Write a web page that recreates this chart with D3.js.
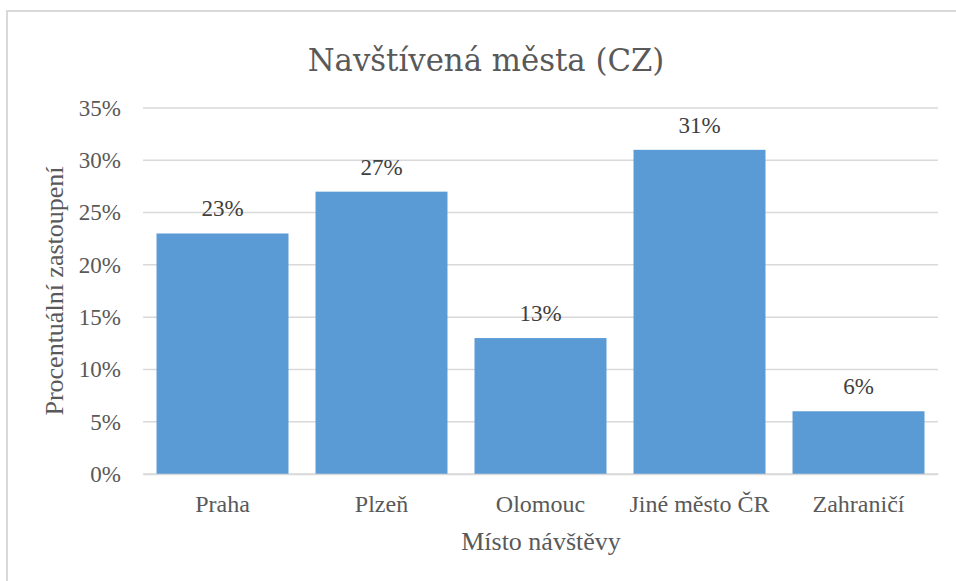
<!DOCTYPE html>
<html><head><meta charset="utf-8">
<script src="https://cdn.jsdelivr.net/npm/d3@7"></script>
<style>body{margin:0;background:#fff}svg{display:block}</style>
</head><body><svg id="c" width="956" height="581"></svg>
<script>
const categories = ["Praha","Plzeň","Olomouc","Jiné město ČR","Zahraničí"];
const values = [0.23,0.27,0.13,0.31,0.06];
const yTicks = [0,0.05,0.10,0.15,0.20,0.25,0.30,0.35];
const title = "Navštívená města (CZ)";
const xTitle = "Místo návštěvy";
const yTitle = "Procentuální zastoupení";

const svg = d3.select("#c");
svg.append("rect").attr("x",7).attr("y",11).attr("width",960).attr("height",590)
  .attr("fill","#fff").attr("stroke","#D9D9D9").attr("stroke-width",2);

const L=143,R=938,T=108,B=474;
const x = d3.scaleBand().domain(categories).range([L,R]).paddingInner(0.17).paddingOuter(0.085);
const y = d3.scaleLinear().domain([0,0.35]).range([B,T]);
const serif = "Liberation Serif";
const pct = d3.format(".0%");

// grid
svg.append("g").selectAll("line").data(yTicks).join("line")
  .attr("x1",L).attr("x2",R).attr("y1",d=>y(d)).attr("y2",d=>y(d))
  .attr("stroke","#D9D9D9").attr("stroke-width",1.5);

// y axis labels
const yAxis = d3.axisLeft(y).tickValues(yTicks).tickFormat(pct).tickSize(0).tickPadding(22);
const ya = svg.append("g").attr("transform",`translate(${L},0)`).call(yAxis)
  .attr("font-family",serif).attr("font-size",23);
ya.select(".domain").remove();
ya.selectAll("text").attr("fill","#595959");

// bars
svg.append("g").selectAll("rect").data(values).join("rect")
  .attr("x",(d,i)=>x(categories[i])).attr("width",x.bandwidth())
  .attr("y",d=>y(d)).attr("height",d=>B-y(d)).attr("fill","#5B9BD5");

// x axis
const xAxis = d3.axisBottom(x).tickSize(0).tickPadding(21);
const xa = svg.append("g").attr("transform",`translate(0,${B})`).call(xAxis)
  .attr("font-family",serif).attr("font-size",24);
xa.select(".domain").attr("stroke","#D9D9D9").attr("stroke-width",1.5);
xa.selectAll("text").attr("fill","#595959");

// data labels
svg.append("g").selectAll("text").data(values).join("text")
  .attr("x",(d,i)=>x(categories[i])+x.bandwidth()/2).attr("y",d=>y(d)-17)
  .attr("text-anchor","middle").attr("font-family",serif).attr("font-size",23).attr("fill","#404040")
  .text(d=>pct(d));

// titles
const t = svg.append("text").attr("x",486).attr("y",71).attr("text-anchor","middle")
  .attr("font-family","DejaVu Serif").attr("font-size",30).attr("fill","#595959").text(title);
const w = t.node().getComputedTextLength();
t.attr("font-size",30*357/w);

svg.append("text").attr("x",541).attr("y",550).attr("text-anchor","middle")
  .attr("font-family",serif).attr("font-size",26).attr("fill","#595959").text(xTitle);
svg.append("text").attr("transform",`translate(63,${(T+B)/2}) rotate(-90)`).attr("text-anchor","middle")
  .attr("font-family",serif).attr("font-size",26).attr("fill","#595959").text(yTitle);
</script></body></html>
